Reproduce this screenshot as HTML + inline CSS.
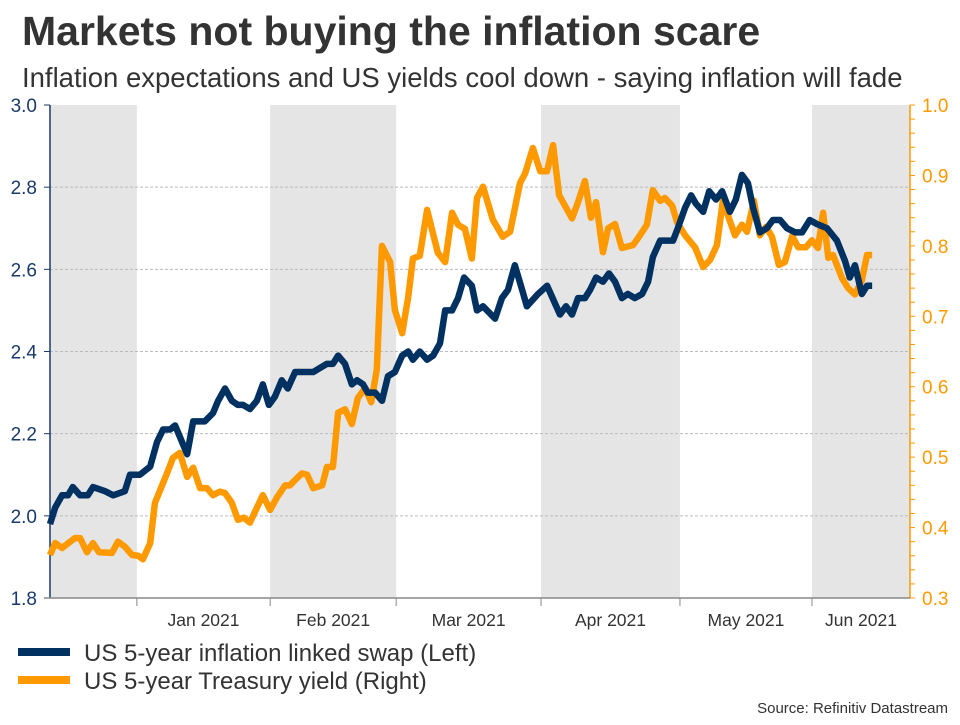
<!DOCTYPE html>
<html><head><meta charset="utf-8"><style>
body{margin:0;background:#fff;}
svg text{font-family:"Liberation Sans",Arial,sans-serif;}
</style></head><body>
<svg id="chart" width="960" height="720" viewBox="0 0 960 720" xmlns="http://www.w3.org/2000/svg">
<text x="22" y="45" font-size="41" font-weight="bold" fill="#333">Markets not buying the inflation scare</text>
<text x="22" y="87" font-size="27.5" fill="#333">Inflation expectations and US yields cool down - saying inflation will fade</text>
<g id="bands"></g>
<g id="grid"></g>
<g id="axes"></g>
<g id="series"></g>
<g>
<line x1="18" y1="652" x2="70" y2="652" stroke="#003161" stroke-width="8"/>
<text x="84" y="661" font-size="24" fill="#333">US 5-year inflation linked swap (Left)</text>
<line x1="18" y1="680" x2="70" y2="680" stroke="#ff9900" stroke-width="8"/>
<text x="84" y="689" font-size="24" fill="#333">US 5-year Treasury yield (Right)</text>
</g>
<text x="948" y="713" font-size="15" fill="#333" text-anchor="end">Source: Refinitiv Datastream</text>
</svg>
<script>
const periodBounds = [0, 20.2, 51.2, 80.5, 114.2, 146.5, 177.2, 200];
const periodLabels = ["", "Jan 2021", "Feb 2021", "Mar 2021", "Apr 2021", "May 2021", "Jun 2021"];
const leftTicks = [1.8, 2.0, 2.2, 2.4, 2.6, 2.8, 3.0];
const leftTickLabels = ["1.8", "2.0", "2.2", "2.4", "2.6", "2.8", "3.0"];
const rightTicks = [0.3, 0.4, 0.5, 0.6, 0.7, 0.8, 0.9, 1.0];
const rightTickLabels = ["0.3", "0.4", "0.5", "0.6", "0.7", "0.8", "0.9", "1.0"];
const swapDays = [0,1.2,2.8,4.2,5.3,7,8.8,10,12.8,14.7,17.4,18.6,20.9,23.3,24.9,26.3,27.9,29.1,31.9,33.3,36,37.9,39.1,40.7,42.3,43.7,44.9,46.5,48.1,49.5,50.9,52.3,53.9,55.3,57,61.2,62.8,64.4,65.8,67,68.6,70.2,71.4,72.8,73.9,75.6,77.2,78.6,80.2,81.9,83.3,84.4,86,87.7,89.1,90.7,91.9,93.5,94.9,96.3,98.1,99.3,100.7,103.5,105.1,106.5,108.1,109.8,110.9,113.5,115.6,118.6,120,121.4,122.8,124.4,125.6,127,128.6,130,131.4,133,134.4,136,137.7,139.1,140.2,141.9,144.9,146,147.7,149.1,150.2,151.9,153.3,154.9,156.3,158.1,159.5,160.9,162.3,163.5,165.1,166.7,168.1,169.8,171.4,173.3,174.9,176.7,178.4,180.7,183,184.9,186,187.2,188.8,190,191.2];
const swapVals = [1.98,2.02,2.05,2.05,2.07,2.05,2.05,2.07,2.06,2.05,2.06,2.10,2.10,2.12,2.18,2.21,2.21,2.22,2.15,2.23,2.23,2.25,2.28,2.31,2.28,2.27,2.27,2.26,2.28,2.32,2.27,2.29,2.33,2.31,2.35,2.35,2.36,2.37,2.37,2.39,2.37,2.32,2.33,2.32,2.30,2.30,2.28,2.34,2.35,2.39,2.40,2.38,2.40,2.38,2.39,2.42,2.50,2.50,2.53,2.58,2.56,2.50,2.51,2.48,2.53,2.55,2.61,2.55,2.51,2.54,2.56,2.49,2.51,2.49,2.53,2.53,2.55,2.58,2.57,2.59,2.57,2.53,2.54,2.53,2.54,2.57,2.63,2.67,2.67,2.70,2.75,2.78,2.76,2.74,2.79,2.77,2.79,2.74,2.77,2.83,2.81,2.75,2.69,2.70,2.72,2.72,2.70,2.69,2.69,2.72,2.71,2.70,2.67,2.62,2.58,2.61,2.54,2.56,2.56];
const yieldDays = [0,1.2,2.8,4.7,5.8,7,8.6,10,11.4,14.4,15.8,17.4,19.1,20.5,21.6,23.3,24.4,25.6,27.2,28.6,30.2,31.9,33.3,34.9,36.5,37.9,39.5,40.7,42.3,43.7,45.1,46.5,48.1,49.5,51.2,52.8,54.7,55.8,57.4,58.6,59.8,61.2,63.3,64.4,65.8,67,68.6,70.2,71.6,73.3,74.7,76,77.2,79.1,80.2,81.9,83.3,84.4,86,87.7,90.2,91.9,93.5,94.9,96.5,98.1,99.3,100.7,103,105.3,107,109.3,110.5,112.3,114,115.6,117,118.4,121.4,122.8,124.4,125.8,127,128.6,129.8,131.4,133,135.6,137.2,138.8,140.2,141.9,143,144.7,145.8,147.7,150,151.9,153.5,155.1,156.5,157.9,159.3,160.9,162.1,163.7,165.1,166.5,167.9,169.5,170.9,172.6,174,175.8,177.2,178.6,179.8,181,182.1,184.2,185.6,187.2,188.8,190,191.2];
const yieldVals = [0.361,0.378,0.371,0.380,0.385,0.385,0.365,0.378,0.365,0.364,0.380,0.373,0.361,0.360,0.355,0.378,0.435,0.453,0.477,0.499,0.506,0.472,0.485,0.456,0.456,0.446,0.451,0.449,0.435,0.411,0.414,0.407,0.428,0.446,0.425,0.443,0.460,0.460,0.470,0.477,0.475,0.456,0.460,0.486,0.486,0.563,0.568,0.547,0.584,0.598,0.578,0.624,0.800,0.777,0.709,0.676,0.727,0.782,0.786,0.851,0.790,0.777,0.847,0.830,0.824,0.782,0.868,0.884,0.837,0.813,0.820,0.889,0.903,0.939,0.906,0.906,0.943,0.872,0.839,0.862,0.892,0.840,0.862,0.791,0.825,0.831,0.797,0.801,0.815,0.830,0.879,0.864,0.868,0.857,0.834,0.815,0.798,0.770,0.780,0.801,0.865,0.839,0.815,0.830,0.820,0.864,0.815,0.827,0.813,0.773,0.777,0.814,0.798,0.798,0.808,0.797,0.847,0.783,0.787,0.754,0.740,0.731,0.751,0.787,0.787];

const NS = "http://www.w3.org/2000/svg";
const X0 = 50, X1 = 910, Y0 = 598, Y1 = 105;
const xs = d => X0 + d / 200 * (X1 - X0);
const yL = v => Y0 - (v - 1.8) / 1.2 * (Y0 - Y1);
const yR = v => Y0 - (v - 0.3) / 0.7 * (Y0 - Y1);
function mk(tag, attrs, parent) {
  const e = document.createElementNS(NS, tag);
  for (const k in attrs) e.setAttribute(k, attrs[k]);
  parent.appendChild(e);
  return e;
}
const bands = document.getElementById('bands');
const grid = document.getElementById('grid');
const axes = document.getElementById('axes');
const series = document.getElementById('series');

for (let i = 0; i < periodBounds.length - 1; i += 2) {
  const r = mk('rect', {x: xs(periodBounds[i]), y: Y1, width: xs(periodBounds[i+1]) - xs(periodBounds[i]), height: Y0 - Y1, fill: '#e5e5e5'}, bands);
  
  
}
leftTicks.forEach((v, i) => {
  if (v > 1.8 && v < 3.0) {
    const g = mk('line', {x1: X0, x2: X1, y1: yL(v), y2: yL(v), stroke: '#bbb', 'stroke-dasharray': '3,2', 'stroke-width': 1}, grid);
    
    
  }
  mk('line', {x1: X0 - 6, x2: X0, y1: yL(v), y2: yL(v), stroke: '#1a3a6b', 'stroke-width': 1}, axes);
  const t = mk('text', {x: 37, y: yL(v) + 7, 'text-anchor': 'end', 'font-size': 19, fill: '#1a3a6b'}, axes);
  t.textContent = leftTickLabels[i];
  
  
});
for (let k = 0; k <= 35; k++) {
  const v = 0.3 + k * 0.02;
  mk('line', {x1: X1, x2: X1 + 5, y1: yR(v), y2: yR(v), stroke: '#ff9900', 'stroke-width': 1}, axes);
}
rightTicks.forEach((v, i) => {
  const t = mk('text', {x: 922, y: yR(v) + 7, 'font-size': 19, fill: '#ff9900'}, axes);
  t.textContent = rightTickLabels[i];
  
  
});
mk('line', {x1: X0, x2: X0, y1: Y1, y2: Y0, stroke: '#1a3a6b', 'stroke-width': 1.5}, axes);
mk('line', {x1: X1, x2: X1, y1: Y1, y2: Y0, stroke: '#ff9900', 'stroke-width': 1.5}, axes);
mk('line', {x1: X0 - 6, x2: X1, y1: Y0, y2: Y0, stroke: '#888', 'stroke-width': 1.5}, axes);
periodBounds.forEach((d, i) => {
  if (i > 0 && i < periodBounds.length - 1) mk('line', {x1: xs(d), x2: xs(d), y1: Y0, y2: Y0 + 8, stroke: '#888', 'stroke-width': 1}, axes);
});
periodLabels.forEach((lab, i) => {
  if (!lab) return;
  const t = mk('text', {x: (xs(periodBounds[i]) + xs(periodBounds[i+1])) / 2, y: 626, 'text-anchor': 'middle', 'font-size': 17.5, fill: '#333'}, axes);
  t.textContent = lab;
  
  
});
const pY = mk('polyline', {points: yieldDays.map((d, i) => xs(d) + ',' + yR(yieldVals[i])).join(' '), fill: 'none', stroke: '#ff9900', 'stroke-width': 6.5, 'stroke-linejoin': 'round'}, series);


const pS = mk('polyline', {points: swapDays.map((d, i) => xs(d) + ',' + yL(swapVals[i])).join(' '), fill: 'none', stroke: '#003161', 'stroke-width': 6.5, 'stroke-linejoin': 'round'}, series);


</script>
</body></html>
